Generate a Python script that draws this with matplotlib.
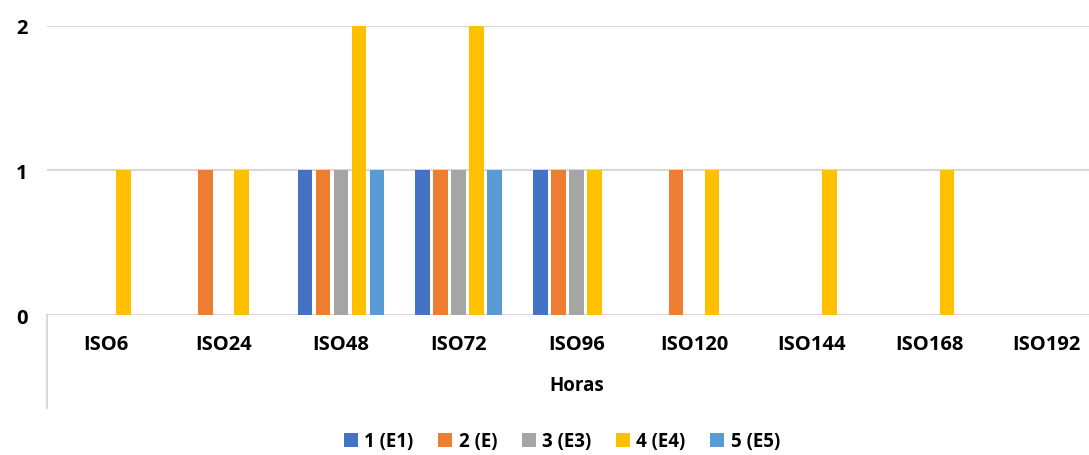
import matplotlib.pyplot as plt
import numpy as np

categorias = ['ISO6', 'ISO24', 'ISO48', 'ISO72', 'ISO96', 'ISO120', 'ISO144', 'ISO168', 'ISO192']
series = ['1 (E1)', '2 (E)', '3 (E3)', '4 (E4)', '5 (E5)']
e1 = [0, 0, 1, 1, 1, 0, 0, 0, 0]
e2 = [0, 1, 1, 1, 1, 1, 0, 0, 0]
e3 = [0, 0, 1, 1, 1, 0, 0, 0, 0]
e4 = [1, 1, 2, 2, 1, 1, 1, 1, 0]
e5 = [0, 0, 1, 1, 0, 0, 0, 0, 0]
valores = [e1, e2, e3, e4, e5]
colores = ['#4472C4', '#ED7D31', '#A5A5A5', '#FFC000', '#5B9BD5']

plt.rcParams['font.family'] = ['Open Sans', 'DejaVu Sans']
plt.rcParams['font.weight'] = 'bold'

fig = plt.figure(figsize=(10.89, 4.56), dpi=100)
ax = fig.add_axes([0.0432, 0.307, 0.972, 0.634])

x = np.arange(len(categorias))
paso = 0.153
ancho = 0.125
for i, (nombre, v) in enumerate(zip(series, valores)):
    ax.bar(x + (i - 2) * paso, v, ancho, color=colores[i], label=nombre, zorder=3)

ax.set_xlim(-0.5, len(categorias) - 0.5)
ax.set_ylim(0, 2)
ax.set_yticks([0, 1, 2])
ax.grid(axis='y', color='#D9D9D9', linewidth=1.5, zorder=0)
for s in ['top', 'right', 'left', 'bottom']:
    ax.spines[s].set_visible(False)
ax.tick_params(axis='both', length=0, labelsize=14.5)
ax.tick_params(axis='y', pad=14)
ax.tick_params(axis='x', pad=14)
ax.set_xticks(x)
ax.set_xticklabels(categorias, fontweight='bold')
for t in ax.get_yticklabels():
    t.set_fontweight('bold')
ax.set_xlabel('Horas', fontsize=13.5, fontweight='bold', labelpad=15)

# borde izquierdo del eje de categorias
ax.plot([0, 0], [0, -0.32], transform=ax.transAxes, color='#D9D9D9',
        linewidth=1.5, clip_on=False)

leg = fig.legend(loc='center', bbox_to_anchor=(0.516, 0.03), ncol=5, frameon=False,
                 prop={'size': 13.5, 'weight': 'bold'}, handlelength=0.75, handleheight=0.75,
                 handletextpad=0.35, columnspacing=1.3)

fig.savefig('out.png', dpi=100)
